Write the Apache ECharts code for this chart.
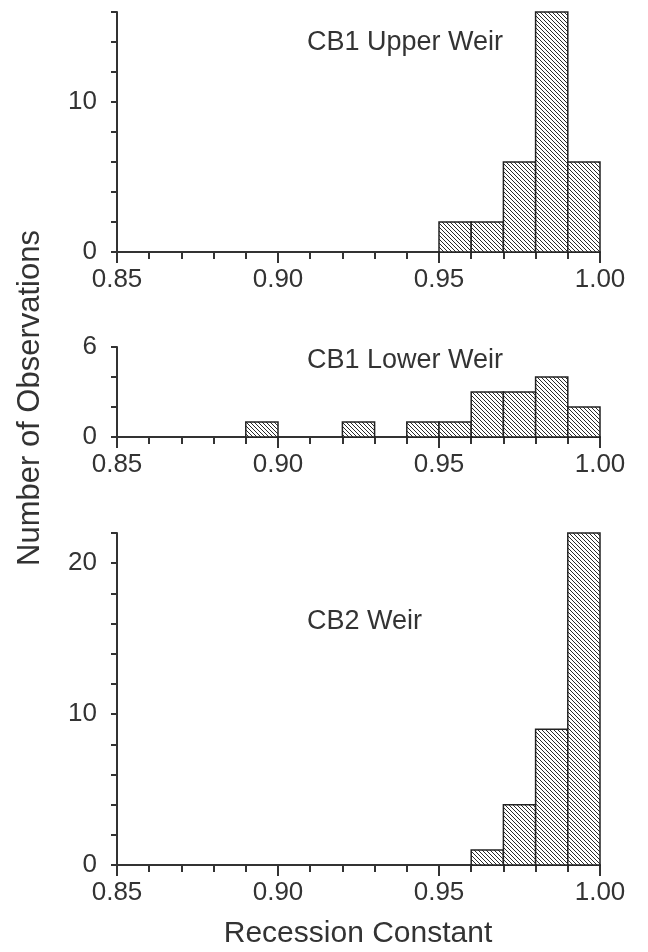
<!DOCTYPE html>
<html>
<head>
<meta charset="UTF-8">
<title>Recession Constant</title>
<script src="https://cdn.jsdelivr.net/npm/echarts@6/dist/echarts.min.js"></script>
<style>
  html, body { margin: 0; padding: 0; background: #fff; }
  #chart { width: 648px; height: 952px; }
</style>
</head>
<body>
<div id="chart"></div>
<script>
// bin start values (bins are 0.01 wide) and counts for each weir
var binWidth = 0.01;
var upperStarts = [0.95, 0.96, 0.97, 0.98, 0.99];
var upperCounts = [2, 2, 6, 16, 6];
var lowerStarts = [0.89, 0.92, 0.94, 0.95, 0.96, 0.97, 0.98, 0.99];
var lowerCounts = [1, 1, 1, 1, 3, 3, 4, 2];
var cb2Starts = [0.96, 0.97, 0.98, 0.99];
var cb2Counts = [1, 4, 9, 22];

var panelNames = ['CB1 Upper Weir', 'CB1 Lower Weir', 'CB2 Weir'];
var yMax = [16, 6, 22];
var yLabelVals = [[0, 10], [0, 6], [0, 10, 20]];

var ink = '#333';
var font = 'Liberation Sans, Arial, Helvetica, sans-serif';

// hatch pattern  \\\\
var tile = document.createElement('canvas');
tile.width = 4; tile.height = 4;
var tctx = tile.getContext('2d');
tctx.fillStyle = '#fff';
tctx.fillRect(0, 0, 4, 4);
tctx.fillStyle = '#2a2a2a';
for (var i = 0; i < 4; i++) tctx.fillRect(i, i, 1, 1);
var hatch = { image: tile, repeat: 'repeat' };

function toData(starts, counts) {
    return starts.map(function (s, i) { return [s, counts[i]]; });
}

function renderItem(params, api) {
    var x0 = api.value(0), cnt = api.value(1);
    var p1 = api.coord([x0, cnt]);
    var p2 = api.coord([x0 + binWidth, 0]);
    return {
        type: 'rect',
        shape: { x: p1[0], y: p1[1], width: p2[0] - p1[0], height: p2[1] - p1[1] },
        style: { fill: hatch, stroke: '#222', lineWidth: 1.5 }
    };
}

var grids = [
    { left: 117, right: 48, top: 12, height: 240 },
    { left: 117, right: 48, top: 347, height: 90 },
    { left: 117, right: 48, top: 533, height: 332 }
];

var xAxes = [], yAxes = [], series = [], titles = [];
var allData = [toData(upperStarts, upperCounts), toData(lowerStarts, lowerCounts), toData(cb2Starts, cb2Counts)];
var titleTops = [29, 347, 608];

for (var k = 0; k < 3; k++) {
    xAxes.push({
        type: 'value', gridIndex: k, min: 0.85, max: 1.00, interval: 0.05,
        splitLine: { show: false },
        axisLine: { lineStyle: { color: ink, width: 2 } },
        axisTick: { show: true, length: 11, lineStyle: { color: ink, width: 2 } },
        minorTick: { show: true, splitNumber: 5, length: 7, lineStyle: { color: ink, width: 2 } },
        axisLabel: {
            margin: 15, fontSize: 26, color: ink, fontFamily: font,
            formatter: function (v) { return v.toFixed(2); }
        }
    });
    (function (vals) {
        yAxes.push({
            type: 'value', gridIndex: k, min: 0, max: yMax[k], interval: 2,
            splitLine: { show: false },
            axisLine: { show: true, lineStyle: { color: ink, width: 2 } },
            axisTick: { show: true, length: 6, lineStyle: { color: ink, width: 2 } },
            axisLabel: {
                margin: 20, fontSize: 26, color: ink, fontFamily: font,
                formatter: function (v) { return vals.indexOf(v) >= 0 ? String(v) : ''; }
            }
        });
    })(yLabelVals[k]);
    series.push({
        type: 'custom', xAxisIndex: k, yAxisIndex: k,
        renderItem: renderItem, data: allData[k],
        encode: { x: 0, y: 1 }, z: 1
    });
    titles.push({
        text: panelNames[k], left: 307, top: titleTops[k], padding: 0,
        textStyle: { fontSize: 27, fontWeight: 'normal', color: ink, fontFamily: font }
    });
}

var myChart = echarts.init(document.getElementById('chart'));
myChart.setOption({
    animation: false,
    backgroundColor: '#fff',
    title: titles,
    grid: grids,
    xAxis: xAxes,
    yAxis: yAxes,
    series: series,
    graphic: [
        {
            type: 'text', x: 30, y: 398, rotation: Math.PI / 2,
            style: { text: 'Number of Observations', fontSize: 31, fill: ink, fontFamily: font,
                     textAlign: 'center', textVerticalAlign: 'middle' }
        },
        {
            type: 'text', x: 358, y: 934,
            style: { text: 'Recession Constant', fontSize: 30, fill: ink, fontFamily: font,
                     textAlign: 'center', textVerticalAlign: 'middle' }
        }
    ]
});
</script>
</body>
</html>
